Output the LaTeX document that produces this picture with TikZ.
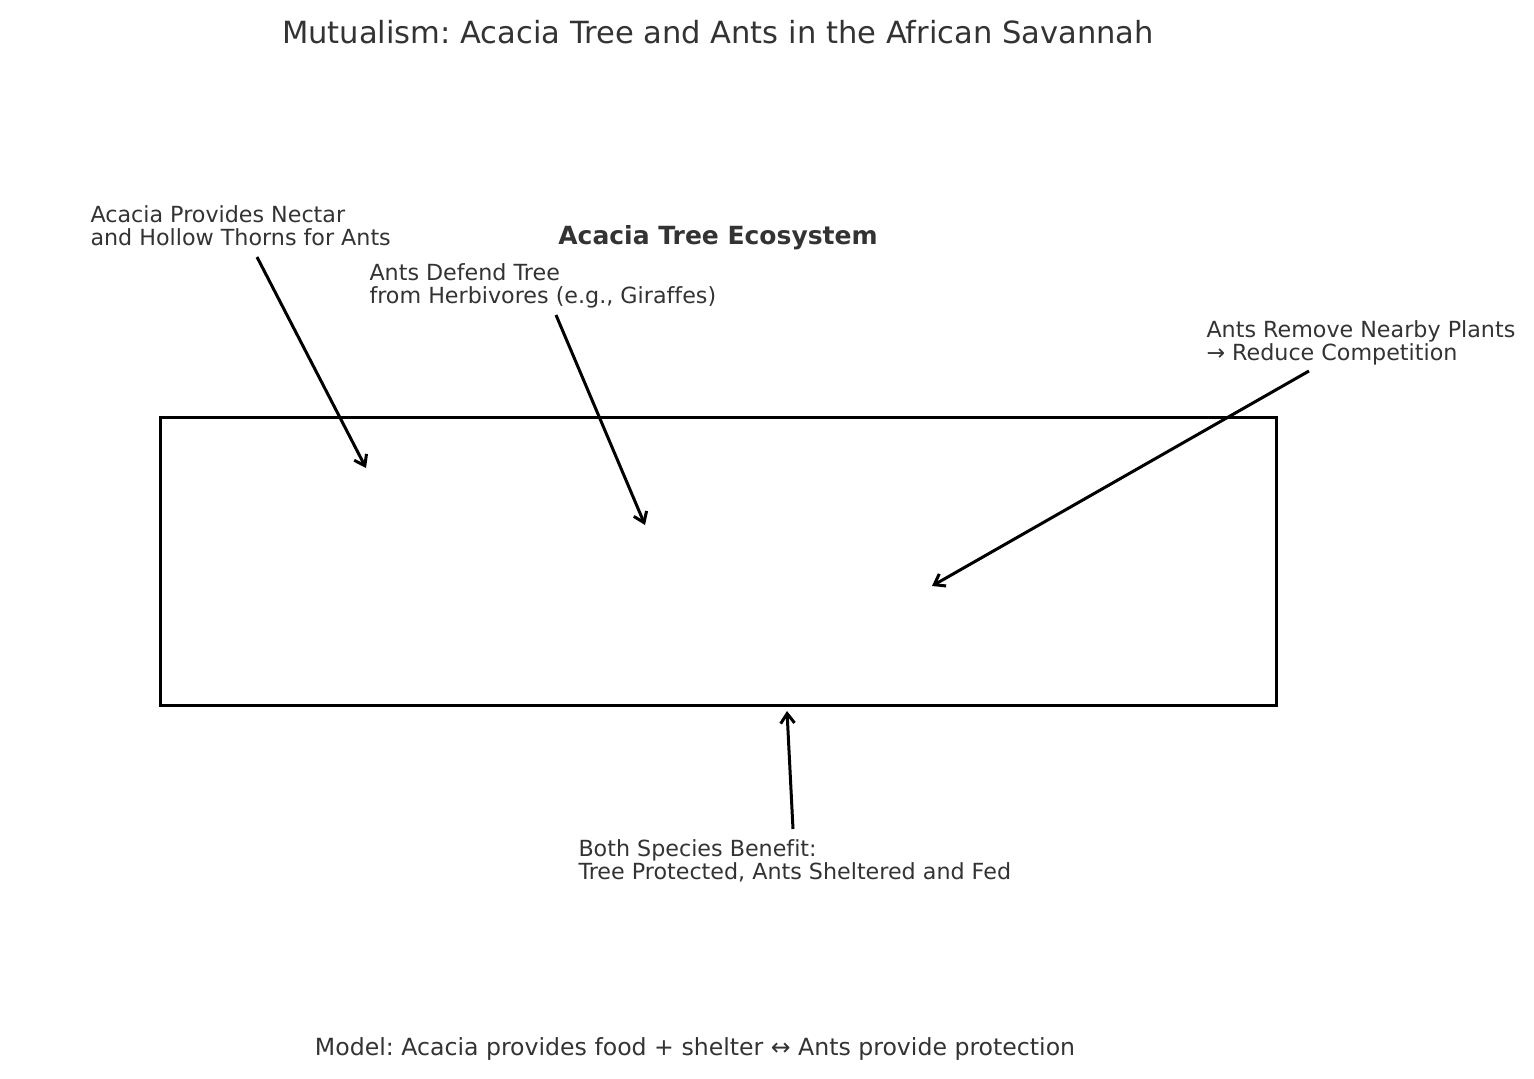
\documentclass[tikz,border=0pt]{standalone}
\usepackage{fontspec}
\setmainfont[Ligatures=CommonOff]{DejaVu Sans}
\frenchspacing
\usepackage{tikz}
\usetikzlibrary{arrows.meta}
\definecolor{txtgray}{HTML}{333333}

\tikzset{
  lbl/.style={anchor=north west,align=left,inner sep=0pt,text=txtgray,
    font=\fontsize{16}{16.6}\selectfont},
  arr/.style={-{Straight Barb[length=7pt,width=10pt]},line width=2.16pt}
}

\begin{document}
\begin{tikzpicture}[x=0.72pt,y=-0.72pt,line width=2.16pt]
\useasboundingbox (0,0) rectangle (1534,1079);

% title
\node [anchor=base,inner sep=0pt,text=txtgray,font=\fontsize{22}{24}\selectfont] (title) at (718,43)
  {Mutualism: Acacia Tree and Ants in the African Savannah};

% tree box
\draw (160,417) rectangle (1276,705);
\node [anchor=base,inner sep=0pt,text=txtgray,font=\fontsize{18}{20}\selectfont\bfseries] (eco) at (718,244)
  {Acacia Tree Ecosystem};

% labels
\node [lbl] (nectar) at (89,204) {Acacia Provides Nectar\\and Hollow Thorns for Ants};
\node [lbl] (defend) at (368,262) {Ants Defend Tree\\from Herbivores (e.g., Giraffes)};
\node [lbl] (remove) at (1205,319) {Ants Remove Nearby Plants\\→ Reduce Competition};
\node [lbl] (benefit) at (577,838) {Both Species Benefit:\\Tree Protected, Ants Sheltered and Fed};

% arrow ends
\coordinate (n1) at (257,257);  \coordinate (n2) at (366,468);
\coordinate (d1) at (556,315);  \coordinate (d2) at (645,525);
\coordinate (r1) at (1309,371); \coordinate (r2) at (932,586);
\coordinate (b1) at (793,829);  \coordinate (b2) at (787,711);

\draw[arr] (n1) -- (n2);
\draw[arr] (d1) -- (d2);
\draw[arr] (r1) -- (r2);
\draw[arr] (b1) -- (b2);

% model line
\node [anchor=base,inner sep=0pt,text=txtgray,font=\fontsize{17}{20}\selectfont] (model) at (695,1055)
  {Model: Acacia provides food + shelter ↔ Ants provide protection};
\end{tikzpicture}
\end{document}
